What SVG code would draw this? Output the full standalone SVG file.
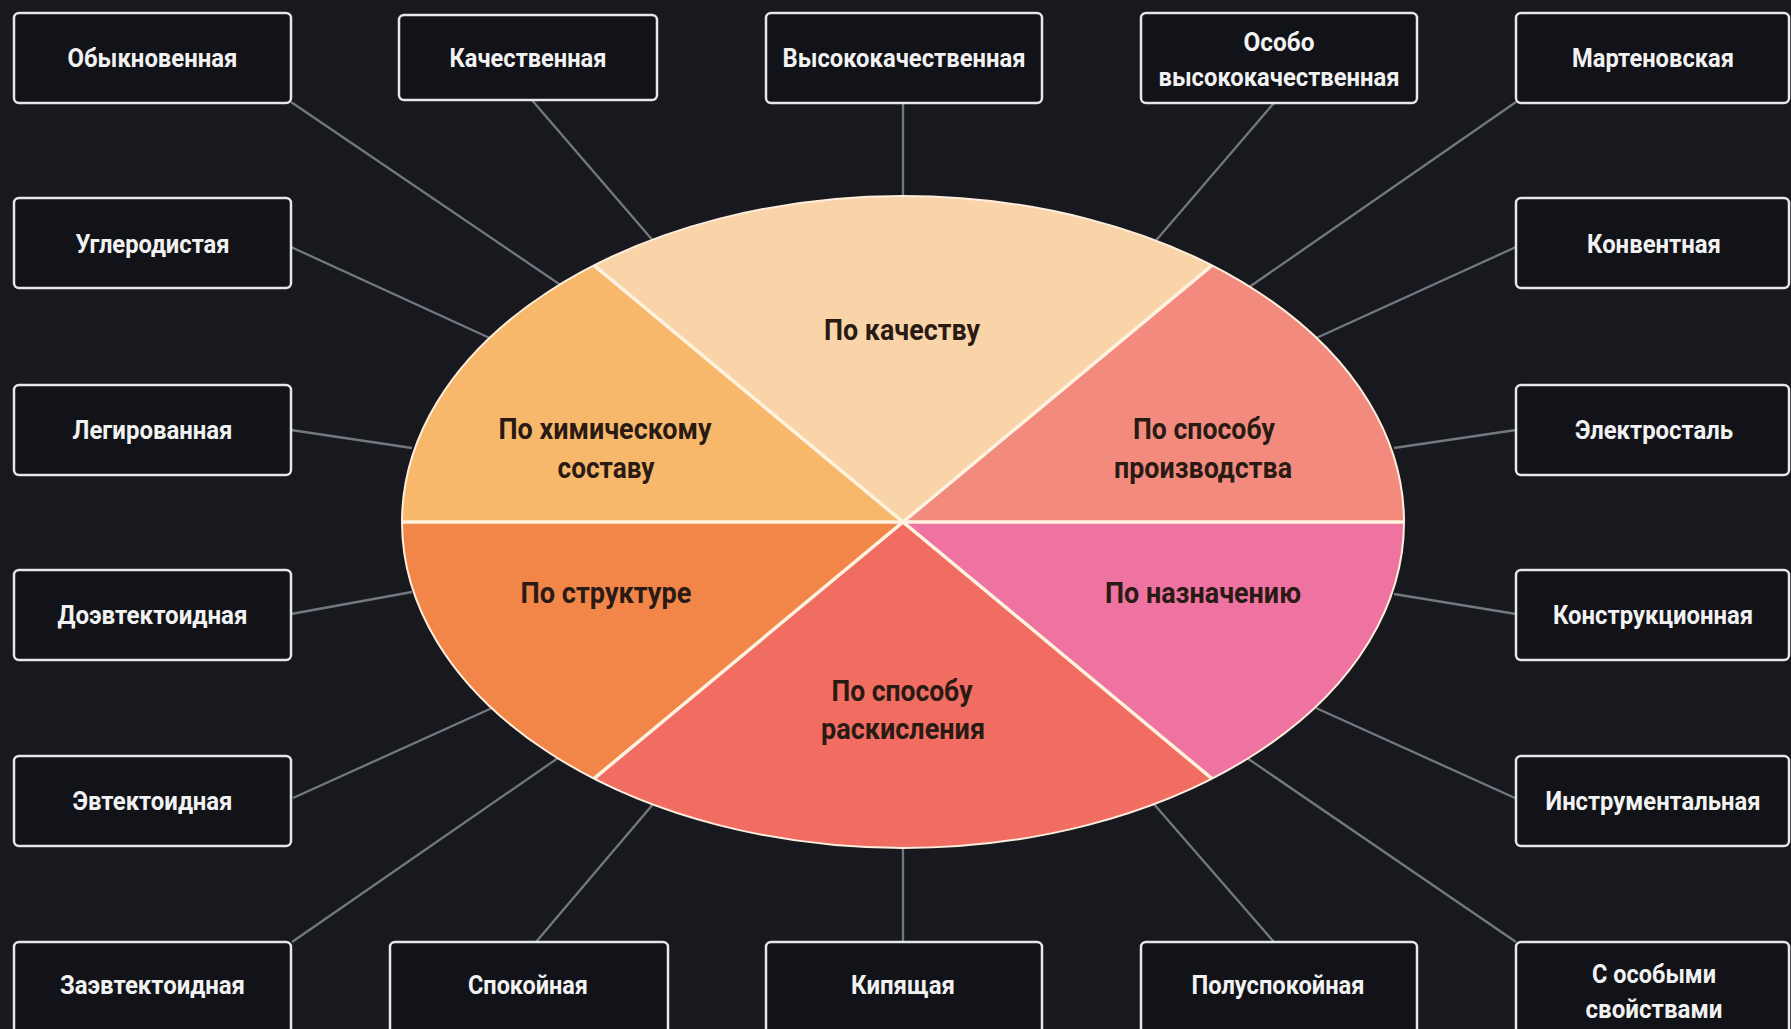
<svg xmlns="http://www.w3.org/2000/svg" width="1791" height="1029" viewBox="0 0 1791 1029">
<style>
.bg{fill:#17191f}
.box{fill:#111318;stroke:#e6e7ea;stroke-width:2.5}
.lbl{font-family:Roboto,"Liberation Sans","DejaVu Sans",sans-serif;font-weight:700;font-size:26px;fill:#f2f2f2;text-anchor:middle}
.pl{font-family:Roboto,"Liberation Sans","DejaVu Sans",sans-serif;font-weight:700;font-size:29px;fill:#2a1a14;text-anchor:middle}
.con line{stroke:#74777e;stroke-width:2.3}
.div{stroke:#fff2de;stroke-width:3.5}
</style>
<rect class="bg" x="0" y="0" width="1791" height="1029"/>
<g id="connectors" class="con">
<line x1="291" y1="102" x2="565" y2="288"/>
<line x1="531" y1="99" x2="655" y2="243"/>
<line x1="903" y1="103" x2="903" y2="202"/>
<line x1="1274" y1="103" x2="1153" y2="244"/>
<line x1="1516" y1="102" x2="1245" y2="290"/>
<line x1="1516" y1="247" x2="1312" y2="340"/>
<line x1="291" y1="247" x2="494" y2="340"/>
<line x1="291" y1="430" x2="412" y2="448"/>
<line x1="291" y1="614" x2="412" y2="592"/>
<line x1="293" y1="798" x2="492" y2="708"/>
<line x1="292" y1="942" x2="558" y2="758"/>
<line x1="536" y1="942" x2="654" y2="803"/>
<line x1="903" y1="842" x2="903" y2="942"/>
<line x1="1274" y1="942" x2="1153" y2="803"/>
<line x1="1516" y1="942" x2="1247" y2="758"/>
<line x1="1515" y1="798" x2="1316" y2="708"/>
<line x1="1516" y1="614" x2="1394" y2="594"/>
<line x1="1516" y1="430" x2="1394" y2="448"/>
</g>
<g id="pie">
<path d="M903,522 L594,265.4 A501,326 0 0 1 1212,265.4 Z" fill="#f9d4a8"/>
<path d="M903,522 L1212,265.4 A501,326 0 0 1 1404,522 Z" fill="#f28b7e"/>
<path d="M903,522 L1404,522 A501,326 0 0 1 1212,778.6 Z" fill="#ee73a0"/>
<path d="M903,522 L1212,778.6 A501,326 0 0 1 594,778.6 Z" fill="#f16c61"/>
<path d="M903,522 L594,778.6 A501,326 0 0 1 402,522 Z" fill="#f28649"/>
<path d="M903,522 L402,522 A501,326 0 0 1 594,265.4 Z" fill="#f7b86c"/>
<line class="div" x1="594" y1="265.4" x2="1212" y2="778.6"/>
<line class="div" x1="1212" y1="265.4" x2="594" y2="778.6"/>
<line class="div" x1="402" y1="522" x2="1404" y2="522"/>
<ellipse cx="903" cy="522" rx="501" ry="326" fill="none" stroke="#ffeedd" stroke-width="2"/>
</g>
<g id="seg-quality"><text class="pl" x="902" y="340" textLength="156" lengthAdjust="spacingAndGlyphs">По качеству</text></g>
<g id="seg-chem"><text class="pl" x="605" y="439" textLength="213" lengthAdjust="spacingAndGlyphs">По химическому</text><text class="pl" x="606" y="478" textLength="97" lengthAdjust="spacingAndGlyphs">составу</text></g>
<g id="seg-prod"><text class="pl" x="1204" y="439" textLength="142" lengthAdjust="spacingAndGlyphs">По способу</text><text class="pl" x="1203" y="478" textLength="178" lengthAdjust="spacingAndGlyphs">производства</text></g>
<g id="seg-struct"><text class="pl" x="606" y="603" textLength="171" lengthAdjust="spacingAndGlyphs">По структуре</text></g>
<g id="seg-purpose"><text class="pl" x="1203" y="603" textLength="196" lengthAdjust="spacingAndGlyphs">По назначению</text></g>
<g id="seg-deox"><text class="pl" x="902" y="701" textLength="141" lengthAdjust="spacingAndGlyphs">По способу</text><text class="pl" x="903" y="739" textLength="164" lengthAdjust="spacingAndGlyphs">раскисления</text></g>

<g id="n-obyknovennaya"><rect class="box" x="14" y="13" width="277" height="90" rx="5"/><text class="lbl" x="152.5" y="67" textLength="170" lengthAdjust="spacingAndGlyphs">Обыкновенная</text></g>
<g id="n-kachestvennaya"><rect class="box" x="399" y="15" width="258" height="85" rx="5"/><text class="lbl" x="528" y="67" textLength="157" lengthAdjust="spacingAndGlyphs">Качественная</text></g>
<g id="n-vysokokach"><rect class="box" x="766" y="13" width="276" height="90" rx="5"/><text class="lbl" x="904" y="67" textLength="243" lengthAdjust="spacingAndGlyphs">Высококачественная</text></g>
<g id="n-osobo"><rect class="box" x="1141" y="13" width="276" height="90" rx="5"/><text class="lbl" x="1279" y="51" textLength="71" lengthAdjust="spacingAndGlyphs">Особо</text><text class="lbl" x="1279" y="86" textLength="241" lengthAdjust="spacingAndGlyphs">высококачественная</text></g>
<g id="n-martenovskaya"><rect class="box" x="1516" y="13" width="273" height="90" rx="5"/><text class="lbl" x="1653" y="67" textLength="162" lengthAdjust="spacingAndGlyphs">Мартеновская</text></g>

<g id="n-uglerodistaya"><rect class="box" x="14" y="198" width="277" height="90" rx="5"/><text class="lbl" x="152.5" y="253" textLength="154" lengthAdjust="spacingAndGlyphs">Углеродистая</text></g>
<g id="n-konventnaya"><rect class="box" x="1516" y="198" width="273" height="90" rx="5"/><text class="lbl" x="1654" y="253" textLength="134" lengthAdjust="spacingAndGlyphs">Конвентная</text></g>

<g id="n-legirovannaya"><rect class="box" x="14" y="385" width="277" height="90" rx="5"/><text class="lbl" x="152.5" y="439" textLength="160" lengthAdjust="spacingAndGlyphs">Легированная</text></g>
<g id="n-elektrostal"><rect class="box" x="1516" y="385" width="273" height="90" rx="5"/><text class="lbl" x="1654" y="439" textLength="158" lengthAdjust="spacingAndGlyphs">Электросталь</text></g>

<g id="n-doevtektoidnaya"><rect class="box" x="14" y="570" width="277" height="90" rx="5"/><text class="lbl" x="152.5" y="624" textLength="190" lengthAdjust="spacingAndGlyphs">Доэвтектоидная</text></g>
<g id="n-konstrukcionnaya"><rect class="box" x="1516" y="570" width="273" height="90" rx="5"/><text class="lbl" x="1653" y="624" textLength="200" lengthAdjust="spacingAndGlyphs">Конструкционная</text></g>

<g id="n-evtektoidnaya"><rect class="box" x="14" y="756" width="277" height="90" rx="5"/><text class="lbl" x="152.5" y="810" textLength="160" lengthAdjust="spacingAndGlyphs">Эвтектоидная</text></g>
<g id="n-instrumentalnaya"><rect class="box" x="1516" y="756" width="273" height="90" rx="5"/><text class="lbl" x="1653" y="810" textLength="215" lengthAdjust="spacingAndGlyphs">Инструментальная</text></g>

<g id="n-zaevtektoidnaya"><rect class="box" x="14" y="942" width="277" height="92" rx="5"/><text class="lbl" x="152.5" y="994" textLength="185" lengthAdjust="spacingAndGlyphs">Заэвтектоидная</text></g>
<g id="n-spokoynaya"><rect class="box" x="390" y="942" width="278" height="92" rx="5"/><text class="lbl" x="528" y="994" textLength="120" lengthAdjust="spacingAndGlyphs">Спокойная</text></g>
<g id="n-kipyaschaya"><rect class="box" x="766" y="942" width="276" height="92" rx="5"/><text class="lbl" x="903" y="994" textLength="104" lengthAdjust="spacingAndGlyphs">Кипящая</text></g>
<g id="n-poluspokoynaya"><rect class="box" x="1141" y="942" width="276" height="92" rx="5"/><text class="lbl" x="1278" y="994" textLength="173" lengthAdjust="spacingAndGlyphs">Полуспокойная</text></g>
<g id="n-osobye"><rect class="box" x="1516" y="942" width="273" height="92" rx="5"/><text class="lbl" x="1654" y="983" textLength="124" lengthAdjust="spacingAndGlyphs">С особыми</text><text class="lbl" x="1654" y="1018" textLength="137" lengthAdjust="spacingAndGlyphs">свойствами</text></g>
</svg>
